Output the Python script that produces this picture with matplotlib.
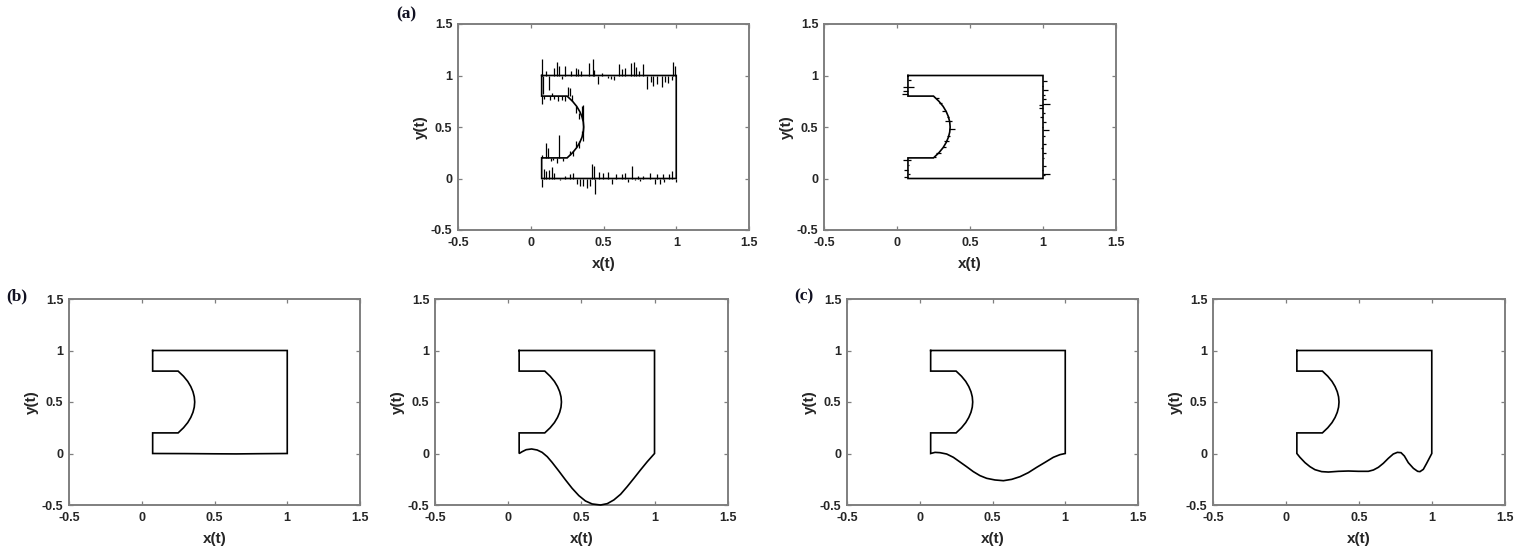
import matplotlib
matplotlib.use("Agg")
import matplotlib.pyplot as plt
from matplotlib import font_manager as fm

W, H = 1520, 558

# ---------------- shape data ----------------
left_x = 0.075
notch_x = 0.25
top_y, bottom_y0 = 1.0, 0.0
notch_hi, notch_lo = 0.8, 0.2
right_x = 1.0

arc_y = [0.2, 0.25, 0.3, 0.35, 0.4, 0.45, 0.5, 0.55, 0.6, 0.65, 0.7, 0.75, 0.8]
arc_x = [0.25, 0.287, 0.316, 0.337, 0.352, 0.361, 0.364, 0.361, 0.352, 0.337, 0.316, 0.287, 0.25]

# bottom boundaries (left -> right)
flat_bot_x = [0.075, 1.0]
flat_bot_y = [0.0, 0.0]

b1_bot_x = [0.075, 0.3, 0.5, 0.65, 0.8, 1.0]
b1_bot_y = [0.0, -0.001, -0.003, -0.004, -0.002, 0.0]

b2_bot_x = [0.075, 0.096, 0.123, 0.16, 0.198, 0.232, 0.267, 0.30, 0.346, 0.392, 0.437,
            0.483, 0.528, 0.574, 0.631, 0.677, 0.722, 0.768, 0.813, 0.859, 0.904, 0.95, 1.0]
b2_bot_y = [0.0, 0.018, 0.037, 0.044, 0.034, 0.011, -0.031, -0.086, -0.17, -0.257, -0.338,
            -0.409, -0.461, -0.49, -0.5, -0.487, -0.451, -0.396, -0.322, -0.241, -0.16, -0.08, 0.0]

c1_bot_x = [0.075, 0.105, 0.139, 0.185, 0.231, 0.277, 0.322, 0.368, 0.414, 0.46, 0.517,
            0.575, 0.632, 0.689, 0.746, 0.804, 0.861, 0.918, 0.964, 1.0]
c1_bot_y = [0.0, 0.011, 0.008, -0.005, -0.037, -0.083, -0.128, -0.176, -0.215, -0.241, -0.257,
            -0.264, -0.251, -0.225, -0.186, -0.134, -0.086, -0.037, -0.011, 0.0]

c2_bot_x = [0.075, 0.096, 0.131, 0.165, 0.199, 0.245, 0.291, 0.36, 0.428, 0.497, 0.565, 0.6,
            0.634, 0.668, 0.702, 0.736, 0.764, 0.789, 0.812, 0.839, 0.874, 0.903, 0.919,
            0.942, 0.965, 1.0]
c2_bot_y = [0.0, -0.037, -0.089, -0.128, -0.157, -0.176, -0.18, -0.173, -0.17, -0.173, -0.173,
            -0.16, -0.134, -0.095, -0.047, -0.005, 0.011, 0.008, -0.024, -0.089, -0.144, -0.173,
            -0.176, -0.154, -0.095, 0.0]

# ---------------- panel (a) left: vertical noise spikes ----------------
top_spk_x = [0.075, 0.086, 0.103, 0.128, 0.162, 0.180, 0.196, 0.213, 0.235, 0.277, 0.311,
             0.327, 0.345, 0.403, 0.426, 0.437, 0.459, 0.492, 0.529, 0.552, 0.575, 0.607,
             0.625, 0.648, 0.689, 0.707, 0.721, 0.746, 0.774, 0.797, 0.826, 0.842, 0.865,
             0.900, 0.923, 0.945, 0.968, 0.980, 0.992]
top_spk_y = [1.16, 0.82, 1.04, 0.86, 1.07, 1.13, 1.09, 0.97, 1.09, 1.04, 1.07,
             1.06, 1.04, 1.12, 1.16, 1.05, 0.92, 1.02, 0.98, 0.97, 0.96, 1.11,
             1.06, 1.07, 1.12, 1.13, 1.08, 1.04, 1.11, 0.87, 0.94, 0.90, 0.92,
             0.89, 0.94, 0.93, 0.96, 1.13, 1.09]

bot_spk_x = [0.075, 0.093, 0.107, 0.125, 0.144, 0.162, 0.201, 0.235, 0.270, 0.293, 0.316,
             0.338, 0.361, 0.384, 0.407, 0.419, 0.437, 0.442, 0.469, 0.499, 0.533, 0.556,
             0.584, 0.625, 0.648, 0.671, 0.698, 0.716, 0.739, 0.751, 0.774, 0.819, 0.854,
             0.865, 0.888, 0.911, 0.918, 0.950, 0.968, 0.996]
bot_spk_y = [-0.08, 0.094, 0.071, 0.087, 0.113, 0.055, -0.019, 0.023, 0.039, 0.055, -0.058,
             -0.068, -0.074, -0.09, -0.074, 0.136, 0.12, -0.155, 0.061, 0.049, 0.061, -0.058,
             0.039, 0.039, 0.049, -0.036, 0.12, -0.016, 0.023, -0.026, 0.029, 0.049, -0.058,
             0.039, -0.049, 0.039, -0.036, 0.039, 0.071, -0.03]

hi_spk_x = [0.075, 0.093, 0.132, 0.145, 0.162, 0.190, 0.212, 0.235, 0.258, 0.272]
hi_spk_y = [0.72, 0.768, 0.761, 0.83, 0.768, 0.755, 0.761, 0.755, 0.89, 0.874]

lo_spk_x = [0.075, 0.107, 0.121, 0.139, 0.155, 0.178, 0.197, 0.225]
lo_spk_y = [0.23, 0.342, 0.294, 0.17, 0.18, 0.155, 0.42, 0.17]

arc_spk_x = [0.285, 0.31, 0.335, 0.352, 0.358, 0.35, 0.33, 0.31, 0.29, 0.27]
arc_spk_y0 = [0.75, 0.70, 0.64, 0.60, 0.71, 0.42, 0.36, 0.31, 0.27, 0.23]
arc_spk_y1 = [0.81, 0.64, 0.58, 0.70, 0.36, 0.46, 0.30, 0.36, 0.22, 0.27]

# ---------------- panel (a) right: horizontal noise spikes ----------------
r_spk_y = [0.942, 0.90, 0.855, 0.81, 0.771, 0.726, 0.715, 0.684, 0.64, 0.597, 0.545,
           0.50, 0.468, 0.41, 0.339, 0.30, 0.248, 0.20, 0.126, 0.08, 0.048, 0.03]
r_spk_x = [1.027, 0.99, 1.032, 1.012, 1.023, 1.046, 0.97, 0.973, 1.012, 0.977, 1.023,
           0.99, 1.039, 1.012, 1.023, 0.988, 1.018, 1.01, 1.018, 0.99, 1.05, 1.015]

lu_spk_y = [0.958, 0.887, 0.887, 0.845, 0.819]
lu_spk_x = [0.094, 0.043, 0.119, 0.043, 0.032]

ll_spk_y = [0.184, 0.184, 0.135, 0.087, 0.039, 0.016]
ll_spk_x = [0.043, 0.095, 0.085, 0.048, 0.088, 0.048]

arc2_spk_y = [0.78, 0.73, 0.66, 0.60, 0.555, 0.48, 0.41, 0.36, 0.31, 0.25, 0.21]
arc2_spk_x0 = [0.265, 0.29, 0.31, 0.34, 0.33, 0.355, 0.345, 0.32, 0.315, 0.27, 0.25]
arc2_spk_x1 = [0.285, 0.305, 0.335, 0.355, 0.375, 0.40, 0.365, 0.355, 0.335, 0.30, 0.265]

ticks = [-0.5, 0, 0.5, 1, 1.5]
tick_labels = ["-0.5", "0", "0.5", "1", "1.5"]


# ---------------- fonts ----------------
def find_font(fname, fallback_family, weight):
    for p in fm.findSystemFonts():
        if p.split("/")[-1].lower() == fname.lower():
            return fm.FontProperties(fname=p)
    return fm.FontProperties(family=fallback_family, weight=weight)


SANS_B = find_font("LiberationSans-Bold.ttf", "Liberation Sans", "bold")
SERIF_B = find_font("LiberationSerif-Bold.ttf", "Liberation Serif", "bold")

SPINE = "#7f7f7f"
TXT = "#262626"
LW = 1.2

fig = plt.figure(figsize=(W / 100, H / 100), dpi=100)
fig.patch.set_facecolor("white")

boxes = [(458, 24, 749, 230), (824, 24, 1116, 230),
         (69, 299, 360, 505), (435, 299, 727.7, 505),
         (847, 299, 1138, 505), (1213, 299, 1504.7, 505)]


def make_ax(box):
    l, t, r, b = box
    ax = fig.add_axes([l / W, 1 - b / H, (r - l) / W, (b - t) / H])
    ax.set_xlim(-0.5, 1.5)
    ax.set_ylim(-0.5, 1.5)
    ax.set_xticks(ticks)
    ax.set_yticks(ticks)
    tick_fp = SANS_B.copy()
    tick_fp.set_size(9)
    ax.set_xticklabels(tick_labels, fontproperties=tick_fp)
    ax.set_yticklabels(tick_labels, fontproperties=tick_fp)
    ax.tick_params(direction="in", top=True, right=True, length=3, width=0.9,
                   color=SPINE, labelcolor=TXT)
    ax.tick_params(axis="x", pad=5)
    ax.tick_params(axis="y", pad=4)
    for s in ax.spines.values():
        s.set_color(SPINE)
        s.set_linewidth(1.4)
    lab_fp = SANS_B.copy()
    lab_fp.set_size(11)
    ax.set_xlabel("x(t)", fontproperties=lab_fp, color=TXT, labelpad=5.5)
    ax.set_ylabel("y(t)", fontproperties=lab_fp, color=TXT, labelpad=2)
    return ax


def draw_shape(ax, bx, by):
    xs = [left_x, right_x] + bx[::-1] + [left_x, notch_x] + arc_x[1:] + [left_x, left_x]
    ys = [top_y, top_y] + by[::-1] + [notch_lo, notch_lo] + arc_y[1:] + [notch_hi, top_y]
    ax.plot(xs, ys, color="black", lw=LW, solid_joinstyle="miter", clip_on=False, zorder=3)


axes = [make_ax(b) for b in boxes]

# (a) left
ax = axes[0]
draw_shape(ax, flat_bot_x, flat_bot_y)
vk = dict(color="black", lw=0.9, zorder=3)
ax.vlines(top_spk_x, top_y, top_spk_y, **vk)
ax.vlines(bot_spk_x, bottom_y0, bot_spk_y, **vk)
ax.vlines(hi_spk_x, notch_hi, hi_spk_y, **vk)
ax.vlines(lo_spk_x, notch_lo, lo_spk_y, **vk)
ax.vlines(arc_spk_x, arc_spk_y0, arc_spk_y1, **vk)

# (a) right
ax = axes[1]
draw_shape(ax, flat_bot_x, flat_bot_y)
ax.hlines(r_spk_y, right_x, r_spk_x, **vk)
ax.hlines(lu_spk_y, left_x, lu_spk_x, **vk)
ax.hlines(ll_spk_y, left_x, ll_spk_x, **vk)
ax.hlines(arc2_spk_y, arc2_spk_x0, arc2_spk_x1, **vk)

# (b), (c)
draw_shape(axes[2], b1_bot_x, b1_bot_y)
draw_shape(axes[3], b2_bot_x, b2_bot_y)
draw_shape(axes[4], c1_bot_x, c1_bot_y)
draw_shape(axes[5], c2_bot_x, c2_bot_y)

# panel letters
let_fp = SERIF_B.copy()
let_fp.set_size(12.5)
lab_kw = dict(fontproperties=let_fp, color="#111122", ha="left", va="top")
fig.text(396 / W, 1 - 6 / H, "(a)", **lab_kw)
fig.text(6 / W, 1 - 288 / H, "(b)", **lab_kw)
fig.text(794 / W, 1 - 288 / H, "(c)", **lab_kw)

fig.savefig("out.png", dpi=100, facecolor="white")
